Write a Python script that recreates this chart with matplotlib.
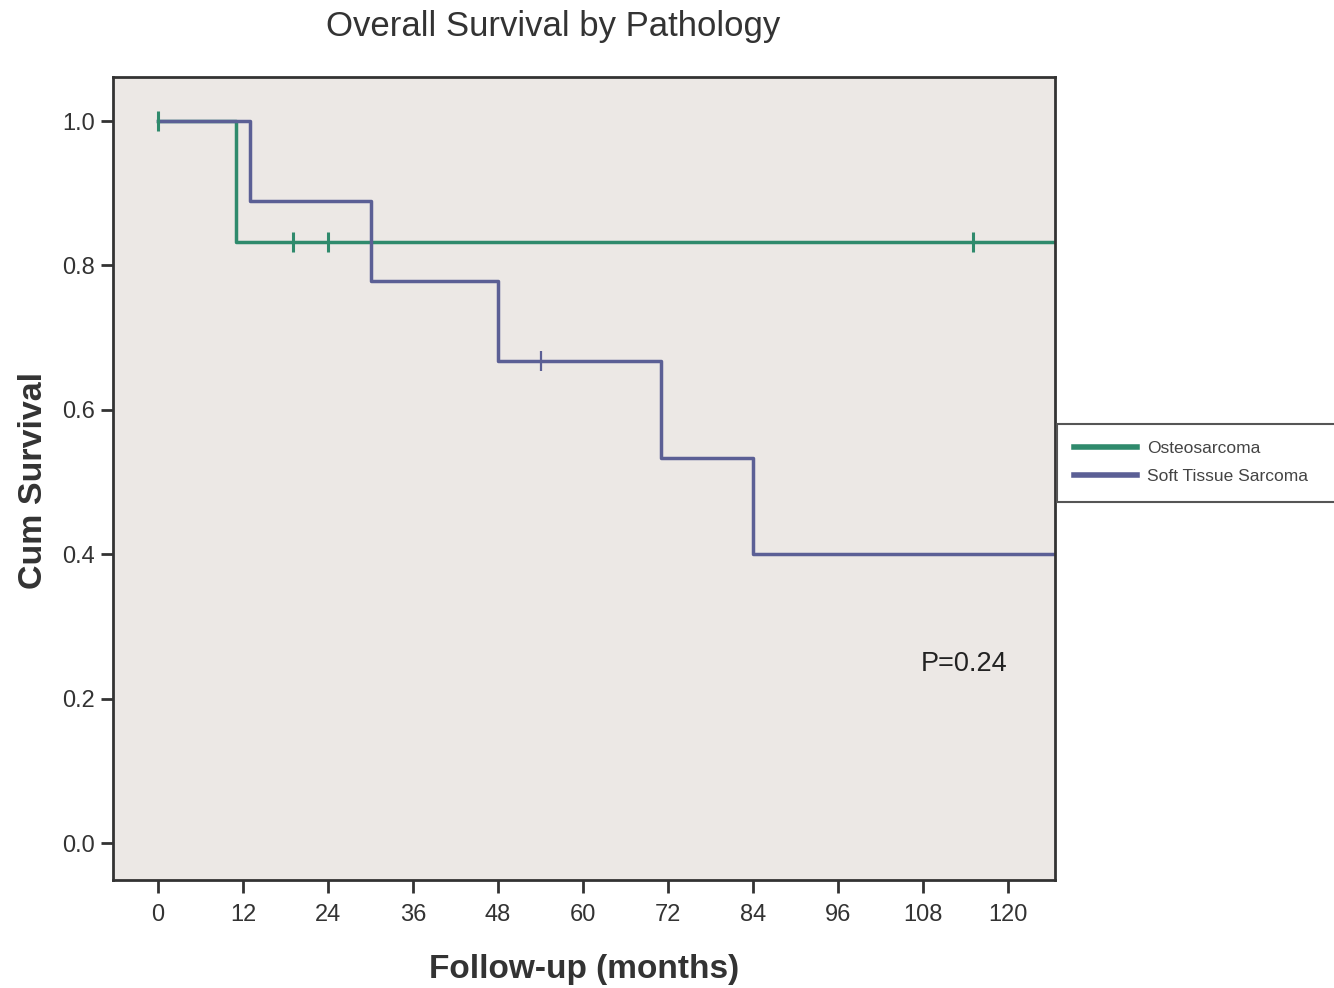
import numpy as np
import matplotlib.pyplot as plt

# Kaplan-Meier step data (months, survival)
osteo_t = [0, 11, 126.6]
osteo_s = [1.0, 0.833, 0.833]
osteo_cens_t = [0, 19, 24, 115]
osteo_cens_s = [1.0, 0.833, 0.833, 0.833]

soft_t = [0, 13, 30, 48, 71, 84, 126.6]
soft_s = [1.0, 0.889, 0.778, 0.667, 0.533, 0.40, 0.40]
soft_cens_t = [54]
soft_cens_s = [0.667]

xticks = [0, 12, 24, 36, 48, 60, 72, 84, 96, 108, 120]
yticks = [0.0, 0.2, 0.4, 0.6, 0.8, 1.0]

green = '#2f8a6c'
blue = '#5b5f95'
dark = '#333333'

plt.rcParams['font.family'] = ['Liberation Sans', 'DejaVu Sans']

fig = plt.figure(figsize=(13.34, 9.88), dpi=100)
ax = fig.add_axes([0.0847, 0.1093, 0.7062, 0.8128])
ax.set_facecolor('#ece8e5')

ax.step(osteo_t, osteo_s, where='post', color=green, lw=2.5, label='Osteosarcoma')
ax.step(soft_t, soft_s, where='post', color=blue, lw=2.5, label='Soft Tissue Sarcoma')
ax.plot(osteo_cens_t, osteo_cens_s, ls='none', marker='|', ms=14, mew=2.2, color=green)
ax.plot(soft_cens_t, soft_cens_s, ls='none', marker='|', ms=14, mew=1.6, color=blue)

ax.set_xlim(-6.35, 126.6)
ax.set_ylim(-0.051, 1.061)
ax.set_xticks(xticks)
ax.set_xticklabels([str(v) for v in xticks])
ax.set_yticks(yticks)
ax.set_yticklabels(['%.1f' % v for v in yticks])
ax.tick_params(direction='out', length=9, width=2, labelsize=17, colors=dark)
ax.tick_params(axis='x', pad=8)
ax.tick_params(axis='y', pad=4)
for s in ax.spines.values():
    s.set_linewidth(2)
    s.set_color(dark)

ax.set_xlabel('Follow-up (months)', fontsize=24, fontweight='bold', color=dark, va='center')
ax.xaxis.set_label_coords(0.5, -0.112)
ax.set_ylabel('Cum Survival', fontsize=24.5, fontweight='bold', color=dark, va='center')
ax.yaxis.set_label_coords(-0.084, 0.497)
fig.text(0.4145, 0.9727, 'Overall Survival by Pathology', ha='center', va='center',
         fontsize=25, color=dark)

ax.text(113.7, 0.248, 'P=0.24', ha='center', va='center', fontsize=19.5, color='#222222')

leg = ax.legend(loc='center', bbox_to_anchor=(0.7924, 0.4939, 0.23, 0.0759),
                bbox_transform=fig.transFigure, mode='expand', borderaxespad=0,
                fontsize=12.5, handlelength=3.6, handletextpad=0.6, borderpad=1.0,
                labelspacing=0.75, fancybox=False, framealpha=1, edgecolor='#555555',
                labelcolor='#444444')
leg.get_frame().set_linewidth(1.5)
for line in leg.get_lines():
    line.set_linewidth(4)

fig.savefig('out.png', dpi=100)
